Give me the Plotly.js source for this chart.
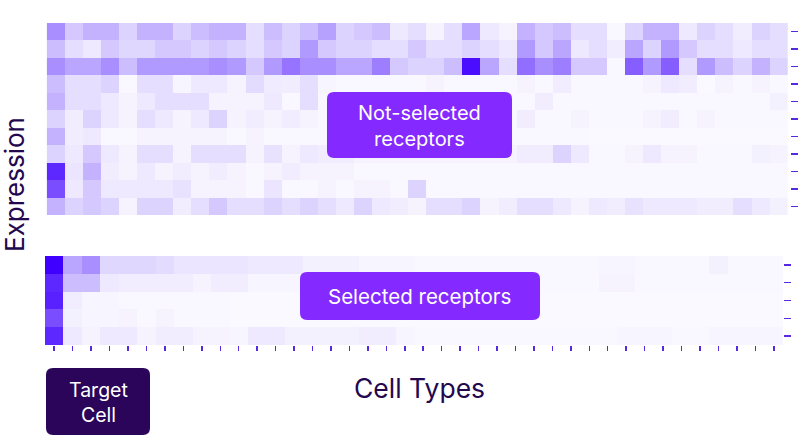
<!DOCTYPE html>
<html>
<head>
<meta charset="utf-8">
<script src="https://cdn.plot.ly/plotly-3.0.1.min.js"></script>
<style>html,body{margin:0;padding:0;background:#fff;}#chart{width:804px;height:436px;}</style>
</head>
<body>
<div id="chart"></div>
<script>
// Not-selected receptors (11 rows x 41 cell types), top row first
var notSelectedRows = ["NS1","NS2","NS3","NS4","NS5","NS6","NS7","NS8","NS9","NS10","NS11"];
var notSelected = [
  [5,2.5,3.5,3.5,2,3.5,3.5,2,3,3.5, 3.5,1.5,3,2,3,4.2,2,2.5,3,1, 1.5,0.5,1.5,4,1,0.5,3.5,2.5,3,1.5, 1.5,0.3,2,3.5,3.5,1,2,1.5,0.8,2,1.5],
  [3,1.5,1,2.5,1.8,1.8,2.5,2.5,2,2.5, 2,1.5,2.5,2,4.5,2.5,2,2,1.5,1.5, 2.5,1.5,1.5,2,1.5,1,4.5,2.5,4,1, 1.5,0.8,4,2,4.5,2.5,1.5,1.5,1,1.5,1.5],
  [5,4,4,5,3,4.5,4.5,4.5,4.5,5, 4.5,2.5,4.5,5.8,5,5,4,4,5.5,2.5, 2,2,3,9.5,4,1.5,6,5,5.5,2.5, 2.5,0.3,6.5,4.5,6.5,1.5,4.5,3,2,3.5,2],
  [3,1.5,1.5,2,0.3,1.5,1.5,0.4,1,1, 0.5,1.6,0.9,0.8,1.5,0.4,0.3,0.3,0.3,0.3, 0.3,0.5,0.3,0.3,0.3,0.3,0.5,0.3,0.8,0.3, 0.3,0.3,0.3,0.5,1,0.8,0.2,0.5,0.3,0.5,0.3],
  [3.5,1.5,1.5,1,0.5,1,1.5,1.5,1.5,0.5, 0.5,0.5,1,0.3,1.5,0.3,0.3,0.3,0.3,0.3, 0.3,0.3,0.3,0.3,0.3,0.3,0.3,0.8,0.3,0.3, 0.3,0.3,0.3,0.3,0.3,0.3,0.3,0.3,0.3,0.3,0.6],
  [2,0.8,2,1,0.5,1.5,1,0.5,1,2, 0.5,0.8,0.5,0.8,0.5,0.3,0.3,0.3,0.3,0.3, 0.3,0.3,0.3,0.3,0.3,0.3,0.8,0.3,0.3,0.5, 0.3,0.3,0.3,0.5,0.8,0.3,0.5,0.3,0.3,0.3,0.3],
  [3.5,0.8,1,0.3,0.3,0.5,0.5,0.5,0.5,0.5, 0.3,0.5,0.3,0.3,0.3,0.3,0.3,0.3,0.3,0.3, 0.3,0.3,0.3,0.3,0.3,0.3,0.3,0.3,0.3,0.3, 0.2,0.2,0.2,0.2,0.2,0.2,0.2,0.2,0.2,0.2,0.2],
  [2,1,2.5,1,0.5,1.5,1.5,0.5,1.5,1.5, 1.5,0.5,1.3,0.5,1,0.8,0.8,0.5,0.5,0.5, 0.5,0.5,0.5,0.5,0.5,0.5,0.8,0.8,2,1, 0.3,0.3,0.5,1,0.5,0.5,0.3,0.3,0.3,0.6,0.5],
  [8.5,1.2,3.5,0.8,0.5,1,0.5,0.8,0.5,0.8, 0.5,0.3,0.5,0.8,0.5,0.5,0.5,0.3,0.3,0.3, 0.3,0.3,0.3,0.3,0.3,0.3,0.3,0.3,0.3,0.3, 0.3,0.3,0.3,0.3,0.3,0.3,0.3,0.3,0.3,0.3,0.3],
  [7,1,2.5,1,1,1,1,1.3,0.5,0.5, 0.5,0.3,1.2,0.3,0.3,0.5,0.3,0.5,0.5,0.3, 2,0.3,0.3,0.3,0.3,0.3,0.3,0.3,0.3,0.3, 0.3,0.3,0.3,0.3,0.3,0.3,0.3,0.3,0.3,0.3,0.3],
  [3.5,2,2.5,2,0.5,2,2,0.8,1.5,2.5, 1.5,1.5,2,1.5,2,1.5,1,2,1,0.8, 0.5,1.5,1.5,2,0.5,0.8,1.5,1.5,1,0.5, 1,0.8,1.3,1,1,1,0.8,0.8,1.5,1,0.6]
];
// Selected receptors (5 rows x 40 cell types), top row first; column 0 = target cell
var selectedRows = ["S1","S2","S3","S4","S5"];
var selected = [
  [10,4,5,1.8,1.8,1.8,1.6,1.2,1.2,1.2, 1.2,1,1,1,0.6,0.6,0.6,0.4,0.4,0.4, 0.3,0.3,0.3,0.3,0.3,0.3,0.3,0.3,0.3,0.3, 0.4,0.4,0.3,0.3,0.3,0.3,0.6,0.3,0.3,0.3],
  [8.5,3,3,1,0.8,0.8,0.8,0.8,0.5,0.8, 0.8,0.4,0.4,0.4,0.3,0.3,0.3,0.3,0.3,0.3, 0.3,0.3,0.3,0.3,0.3,0.3,0.3,0.3,0.3,0.3, 0.5,0.5,0.3,0.3,0.3,0.3,0.3,0.3,0.3,0.3],
  [8.7,0.8,0.4,0.4,0.3,0.3,0.3,0.3,0.3,0.3, 0.2,0.2,0.2,0.2,0.2,0.2,0.2,0.2,0.2,0.2, 0.2,0.2,0.2,0.2,0.2,0.2,0.2,0.2,0.2,0.2, 0.2,0.2,0.2,0.2,0.2,0.2,0.2,0.2,0.2,0.2],
  [7,0.6,0.4,0.4,0.5,0.3,0.5,0.3,0.3,0.3, 0.2,0.2,0.2,0.2,0.2,0.2,0.2,0.2,0.2,0.2, 0.2,0.2,0.2,0.2,0.2,0.2,0.2,0.2,0.2,0.2, 0.2,0.2,0.2,0.2,0.2,0.2,0.2,0.2,0.2,0.2],
  [8.5,1,0.5,1,1,0.5,0.8,0.8,0.5,0.5, 0.4,1,1,0.6,0.6,0.6,0.6,0.8,0.8,0.4, 0.3,0.3,0.3,0.3,0.3,0.3,0.3,0.3,0.3,0.3, 0.3,0.4,0.4,0.4,0.3,0.3,0.4,0.4,0.4,0.4]
];
var cellTypesTop = notSelected[0].map(function(_, i){ return i; });
var cellTypes = selected[0].map(function(_, i){ return i; });
var annotationTexts = ["Not-selected<br>receptors", "Selected receptors", "Target<br>Cell", "Cell Types", "Expression"];

var W = 804, H = 436;
function px(x){ return x / W; }
function py(y){ return 1 - y / H; }
function roundRect(x0, y0, x1, y1, r){
  var rx = r / W, ry = r / H;
  var a = px(x0), b = px(x1), t = py(y0), u = py(y1);
  return 'M' + (a+rx) + ',' + t + ' L' + (b-rx) + ',' + t +
    ' Q' + b + ',' + t + ' ' + b + ',' + (t-ry) +
    ' L' + b + ',' + (u+ry) + ' Q' + b + ',' + u + ' ' + (b-rx) + ',' + u +
    ' L' + (a+rx) + ',' + u + ' Q' + a + ',' + u + ' ' + a + ',' + (u+ry) +
    ' L' + a + ',' + (t-ry) + ' Q' + a + ',' + t + ' ' + (a+rx) + ',' + t + ' Z';
}

var cs = [[0, '#fdfcff'], [0.03, '#f9f7ff'], [0.1, '#eee9ff'], [0.2, '#ddd3ff'],
          [0.35, '#c4b2ff'], [0.5, '#a88eff'], [0.7, '#7a4dff'], [1, '#4000ff']];
var traces = [
  {type: 'heatmap', z: notSelected, x: cellTypesTop, y: notSelectedRows.map(function(_, i){return i;}),
   xaxis: 'x2', yaxis: 'y2', colorscale: cs, zmin: 0, zmax: 10, showscale: false, hoverinfo: 'skip'},
  {type: 'heatmap', z: selected, x: cellTypes, y: selectedRows.map(function(_, i){return i;}),
   xaxis: 'x', yaxis: 'y', colorscale: cs, zmin: 0, zmax: 10, showscale: false, hoverinfo: 'skip'}
];

var tickCol = '#5429e0';
var textCol = '#24084f';
var font = 'Inter, "Open Sans", sans-serif';
var layout = {
  width: W, height: H,
  margin: {l: 0, r: 0, t: 0, b: 0},
  paper_bgcolor: '#ffffff', plot_bgcolor: '#ffffff',
  showlegend: false,
  xaxis: {domain: [px(45), px(783)], anchor: 'y', range: [-0.5, cellTypes.length - 0.5],
          tickmode: 'array', tickvals: cellTypes, showticklabels: false,
          ticks: 'outside', ticklen: 5, tickwidth: 1.5, tickcolor: tickCol,
          showgrid: false, zeroline: false, showline: false, fixedrange: true},
  yaxis: {domain: [py(345), py(256)], anchor: 'x', side: 'right', autorange: 'reversed',
          tickmode: 'array', tickvals: selectedRows.map(function(_, i){return i;}), showticklabels: false,
          ticks: 'outside', ticklen: 7, tickwidth: 1.5, tickcolor: tickCol,
          showgrid: false, zeroline: false, showline: false, fixedrange: true},
  xaxis2: {domain: [px(46.7), px(790)], anchor: 'y2', range: [-0.5, cellTypesTop.length - 0.5 + 0.11],
           showticklabels: false, ticks: '', showgrid: false, zeroline: false, showline: false, fixedrange: true},
  yaxis2: {domain: [py(215), py(23)], anchor: 'x2', side: 'right', autorange: 'reversed',
           tickmode: 'array', tickvals: notSelectedRows.map(function(_, i){return i;}), showticklabels: false,
           ticks: 'outside', ticklen: 7, tickwidth: 1.5, tickcolor: tickCol,
           showgrid: false, zeroline: false, showline: false, fixedrange: true},
  shapes: [
    {type: 'path', xref: 'paper', yref: 'paper', path: roundRect(327, 92, 512, 158, 7), fillcolor: '#8429ff', line: {width: 0}},
    {type: 'path', xref: 'paper', yref: 'paper', path: roundRect(300, 272, 540, 320, 7), fillcolor: '#8429ff', line: {width: 0}},
    {type: 'path', xref: 'paper', yref: 'paper', path: roundRect(46, 368, 150, 435, 7), fillcolor: '#2a0559', line: {width: 0}}
  ],
  annotations: [
    {xref: 'paper', yref: 'paper', x: px(419.5), y: py(126), text: annotationTexts[0], showarrow: false,
     font: {family: font, size: 20, color: '#ffffff'}, align: 'center', xanchor: 'center', yanchor: 'middle'},
    {xref: 'paper', yref: 'paper', x: px(419), y: py(296), text: annotationTexts[1], showarrow: false,
     font: {family: font, size: 20.5, color: '#ffffff'}, align: 'center', xanchor: 'center', yanchor: 'middle'},
    {xref: 'paper', yref: 'paper', x: px(98), y: py(402), text: annotationTexts[2], showarrow: false,
     font: {family: font, size: 19.5, color: '#ffffff'}, align: 'center', xanchor: 'center', yanchor: 'middle'},
    {xref: 'paper', yref: 'paper', x: px(420), y: py(388), text: annotationTexts[3], showarrow: false,
     font: {family: font, size: 26.5, color: textCol}, xanchor: 'center', yanchor: 'middle'},
    {xref: 'paper', yref: 'paper', x: px(14), y: py(185), text: annotationTexts[4], showarrow: false, textangle: -90,
     font: {family: font, size: 26, color: textCol}, xanchor: 'center', yanchor: 'middle'}
  ]
};

Plotly.newPlot('chart', traces, layout, {displayModeBar: false, staticPlot: true});
</script>
</body>
</html>
